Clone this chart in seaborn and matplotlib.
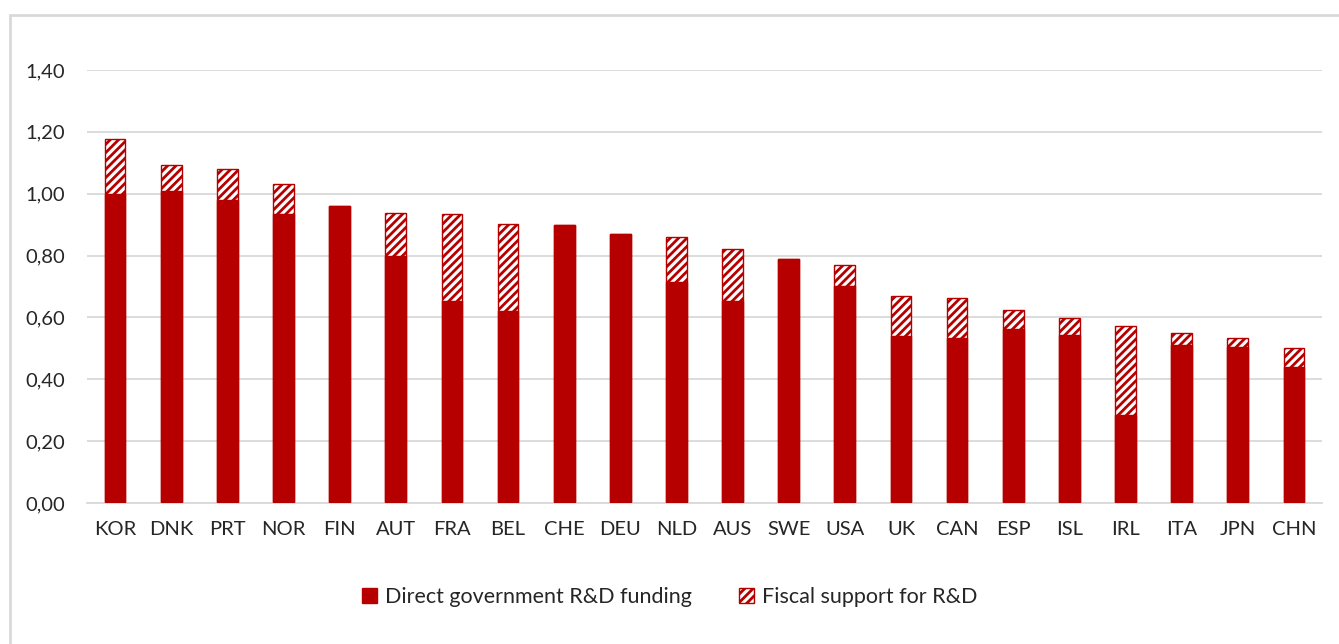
import matplotlib
matplotlib.use("Agg")
import matplotlib.pyplot as plt
from matplotlib.lines import Line2D
from matplotlib.patches import Patch
import seaborn as sns
import pandas as pd

countries = ["KOR", "DNK", "PRT", "NOR", "FIN", "AUT", "FRA", "BEL", "CHE", "DEU", "NLD",
             "AUS", "SWE", "USA", "UK", "CAN", "ESP", "ISL", "IRL", "ITA", "JPN", "CHN"]
direct = [1.00, 1.01, 0.98, 0.935, 0.96, 0.80, 0.653, 0.621, 0.90, 0.87, 0.713,
          0.653, 0.79, 0.703, 0.541, 0.532, 0.561, 0.543, 0.284, 0.511, 0.506, 0.44]
fiscal = [0.178, 0.082, 0.10, 0.096, 0.0, 0.139, 0.28, 0.281, 0.0, 0.0, 0.146,
          0.169, 0.0, 0.067, 0.129, 0.131, 0.062, 0.056, 0.288, 0.039, 0.028, 0.06]
yticks = [0.0, 0.2, 0.4, 0.6, 0.8, 1.0, 1.2, 1.4]

RED = "#B60000"
GRID = "#D9D9D9"

df = pd.DataFrame({"country": countries, "direct": direct, "fiscal": fiscal})
df["total"] = df["direct"] + df["fiscal"]

sns.set_theme(style="white")
plt.rcParams["font.family"] = ["Lato", "DejaVu Sans"]
plt.rcParams["hatch.linewidth"] = 2.0

fig = plt.figure(figsize=(13.39, 6.44), dpi=100)
ax = fig.add_axes([87 / 1339, 1 - 503 / 644, (1322 - 87) / 1339, (503 - 70) / 644])

# Fiscal support drawn as the full stack height, direct funding laid over it
sns.barplot(data=df, x="country", y="total", color="white", edgecolor=RED,
            hatch="////", linewidth=1.0, width=0.37, saturation=1, ax=ax, zorder=2)
sns.barplot(data=df, x="country", y="direct", color=RED, edgecolor=RED,
            linewidth=1.0, width=0.37, saturation=1, ax=ax, zorder=3)

ax.set_xlim(-0.5, len(countries) - 0.5)
ax.set_ylim(0, 1.4)
ax.set_yticks(yticks)
ax.set_yticklabels([f"{v:.2f}".replace(".", ",") for v in yticks])
ax.yaxis.grid(True, color=GRID, linewidth=1.3)
ax.set_axisbelow(True)
ax.set_xlabel("")
ax.set_ylabel("")
for side in ["top", "right", "left"]:
    ax.spines[side].set_visible(False)
ax.spines["bottom"].set_color(GRID)
ax.spines["bottom"].set_linewidth(1.3)
ax.tick_params(axis="both", length=0, labelsize=14.5, colors="#262626")
ax.tick_params(axis="y", pad=16)
ax.tick_params(axis="x", pad=13)

# Outer chart frame
fig.add_artist(Line2D([10 / 1339, 1.0], [1 - 15 / 644] * 2, color=GRID, lw=2,
                      transform=fig.transFigure))
fig.add_artist(Line2D([10 / 1339] * 2, [0.0, 1 - 15 / 644], color=GRID, lw=2,
                      transform=fig.transFigure))

handles = [Patch(facecolor=RED, edgecolor=RED),
           Patch(facecolor="white", edgecolor=RED, hatch="////")]
fig.legend(handles, ["Direct government R&D funding", "Fiscal support for R&D"],
           loc="center", bbox_to_anchor=(0.5, 1 - 597 / 644), ncol=2, frameon=False,
           fontsize=15.5, handlelength=0.7, handleheight=0.7, handletextpad=0.35,
           columnspacing=2.2, labelcolor="#262626")

fig.savefig("out.png", dpi=100)
